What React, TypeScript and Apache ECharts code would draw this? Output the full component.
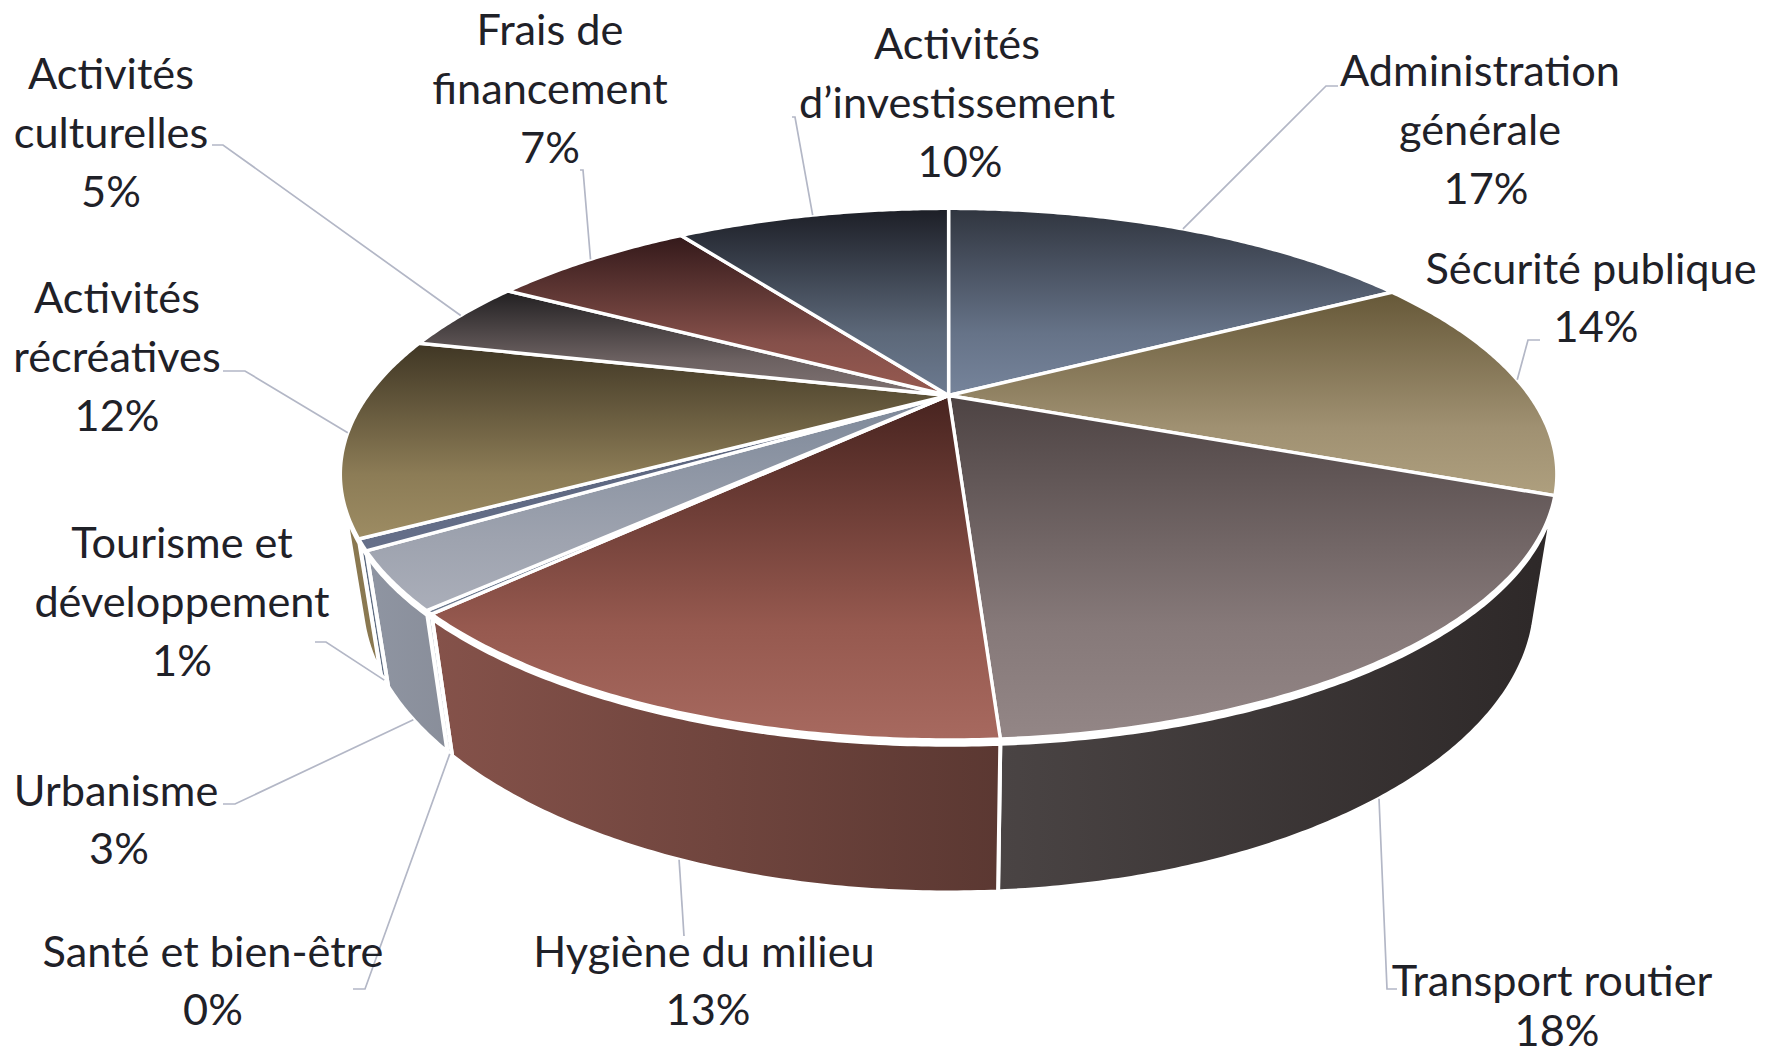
import React, { useEffect, useRef } from "react";
import * as echarts from "echarts";

const categories = [
  ["Administration", "générale"],
  ["Sécurité publique"],
  ["Transport routier"],
  ["Hygiène du milieu"],
  ["Santé et bien-être"],
  ["Urbanisme"],
  ["Tourisme et", "développement"],
  ["Activités", "récréatives"],
  ["Activités", "culturelles"],
  ["Frais de", "financement"],
  ["Activités", "d’investissement"],
];
const values = [16.9, 14.1, 18, 13.4, 0.2, 3.35, 0.65, 12.1, 4.52, 7.08, 9.7];

// [colour at the top of the gradient, colour two thirds down, colour at the bottom]
const topColors = [
  ["#30353f", "#667388", "#76849b"],
  ["#665838", "#a09172", "#ae9f7e"],
  ["#4d4343", "#867979", "#938686"],
  ["#47231f", "#96594f", "#a7695f"],
  ["#5c6a80", "#66748a", "#6c7a90"],
  ["#7d8899", "#9ea3af", "#aaaeb9"],
  ["#566078", "#606a84", "#66708a"],
  ["#3f3624", "#8c7c56", "#9d8c63"],
  ["#211f21", "#6d6262", "#7f7272"],
  ["#33191a", "#85504a", "#975a50"],
  ["#1c1e26", "#5c6879", "#6c7a90"],
];
// [left colour, right colour]
const wallColors = [
  ["#5c6a80", "#5c6a80"],
  ["#7f7050", "#7f7050"],
  ["#4a4444", "#2d2828"],
  ["#85524a", "#5b3832"],
  ["#6c7a90", "#6c7a90"],
  ["#8f95a2", "#898e9a"],
  ["#5c6a80", "#5c6a80"],
  ["#8a7850", "#8a7850"],
  ["#4a4040", "#4a4040"],
  ["#6b3a30", "#6b3a30"],
  ["#3c4454", "#3c4454"],
];

// label block centres, in page pixels
const labelCenters = [
  [1480, 128], [1591, 296], [1552, 1008], [704, 979], [213, 979], [116, 818],
  [182, 600], [117, 355], [111, 131], [550, 87], [957, 101],
];
// how far right of its label the percentage line sits, in page pixels
const percentShift = [6, 5, 5, 4, 0, 3, 0, 0, 0, 0, 3];
// how far above its usual place the percentage line sits, to stay inside the page
const percentLift = [0, 0, 8, 0, 0, 0, 0, 0, 0, 0, 0];
// the bends of each leader line, from the pie outwards, in page pixels
const leaderBends = [
  [[1326, 86], [1338, 86]],
  [[1528, 340], [1540, 340]],
  [[1387, 989], [1397, 989]],
  [[684, 936]],
  [[365, 989], [353, 989]],
  [[235, 804], [223, 804]],
  [[326, 642], [315, 642]],
  [[245, 371], [223, 371]],
  [[223, 145], [212, 145]],
  [[583, 170], [580, 170]],
  [[795, 117], [792, 117]],
];

const CX = 948.6, CY = 395.5, A = 581, B = 242.5, K = -0.296, M = 0.0329, C = 123.7;
const Z_TOP_GAP = 0.03;
const FONT = "Lato";
const V_SILHOUETTE = 0.36;
const LINE_HEIGHT = 58.6;

const project = (theta: number, r: number, z: number) => {
  const u = Math.sin(theta) * r, v = -Math.cos(theta) * r;
  const w = 1 + K * v + M * z;
  return [CX + (A * u) / w, CY + (B * v + C * z) / w];
};

const total = values.reduce((a, b) => a + b, 0);
const cumulative: number[] = [0];
values.forEach((v) => cumulative.push(cumulative[cumulative.length - 1] + v));
const angleAt = (i: number) => (cumulative[i] / total) * Math.PI * 2;
const arcAngles = (a0: number, a1: number) => {
  const n = Math.max(2, Math.ceil((a1 - a0) / (Math.PI / 360)));
  const out: number[] = [];
  for (let i = 0; i <= n; i++) out.push(a0 + ((a1 - a0) * i) / n);
  return out;
};
const SIL = Math.acos(-V_SILHOUETTE);

const renderWall = (_p: any, api: any) => {
  const i = api.value(0);
  const a0 = Math.max(angleAt(i), SIL);
  const a1 = Math.min(angleAt(i + 1), Math.PI * 2 - SIL);
  if (a1 <= a0) return { type: "group", children: [] };
  const angles = arcAngles(a0, a1);
  const points = [
    ...angles.map((t) => project(t, 1, Z_TOP_GAP)),
    ...angles.slice().reverse().map((t) => project(t, 1, 1)),
  ];
  return {
    type: "polygon",
    shape: { points },
    style: {
      fill: new echarts.graphic.LinearGradient(0, 0, 1, 0, [
        { offset: 0, color: wallColors[i][0] },
        { offset: 1, color: wallColors[i][1] },
      ]),
      stroke: "#ffffff",
      lineWidth: 4,
      lineJoin: "round",
    },
  };
};

const renderTop = (_p: any, api: any) => {
  const i = api.value(0);
  const angles = arcAngles(angleAt(i), angleAt(i + 1));
  const points = [[CX, CY], ...angles.map((t) => project(t, 1, 0))];
  return {
    type: "polygon",
    shape: { points },
    style: {
      fill: new echarts.graphic.LinearGradient(0, 0, 0, 1, [
        { offset: 0, color: topColors[i][0] },
        { offset: 0.67, color: topColors[i][1] },
        { offset: 1, color: topColors[i][2] },
      ]),
      stroke: "#ffffff",
      lineWidth: 3.4,
      lineJoin: "round",
    },
  };
};

const renderLeader = (_p: any, api: any) => {
  const i = api.value(0);
  const mid = (angleAt(i) + angleAt(i + 1)) / 2;
  const onBottom = -Math.cos(mid) > V_SILHOUETTE;
  return {
    type: "polyline",
    shape: { points: [project(mid, 1, onBottom ? 1 : 0), ...leaderBends[i]] },
    style: { fill: "none", stroke: "#b3b7c6", lineWidth: 1.7 },
  };
};

const renderLabel = (_p: any, api: any) => {
  const i = api.value(0);
  const pct = Math.round((values[i] / total) * 100);
  const lines = [...categories[i], pct + "%"];
  return {
    type: "group",
    children: lines.map((text, j) => {
      const isPercent = j === lines.length - 1;
      return {
        type: "text",
        style: {
          text,
          x: labelCenters[i][0] + (isPercent ? percentShift[i] : 0),
          y: labelCenters[i][1] + (j - (lines.length - 1) / 2) * LINE_HEIGHT - (isPercent ? percentLift[i] : 0),
          align: "center",
          verticalAlign: "middle",
          fontFamily: FONT,
          fontSize: 43.3,
          fill: "#1f2128",
        },
      };
    }),
  };
};

export default function App() {
  const ref = useRef<HTMLDivElement>(null);
  useEffect(() => {
    document.body.style.margin = "0";
    const chart = echarts.init(ref.current!, undefined, { renderer: "svg" });
    const data = values.map((v, i) => [i, v]);
    const base = { type: "custom", coordinateSystem: "none", silent: true, animation: false };
    chart.setOption({
      animation: false,
      backgroundColor: "#ffffff",
      series: [
        { ...base, z: 1, data, renderItem: renderWall },
        { ...base, z: 2, data, renderItem: renderTop },
        { ...base, z: 3, data, renderItem: renderLeader },
        { ...base, z: 4, data, renderItem: renderLabel },
      ],
    });
    return () => chart.dispose();
  }, []);
  return <div ref={ref} style={{ position: "fixed", left: 0, top: 0, width: 1777, height: 1057 }} />;
}
